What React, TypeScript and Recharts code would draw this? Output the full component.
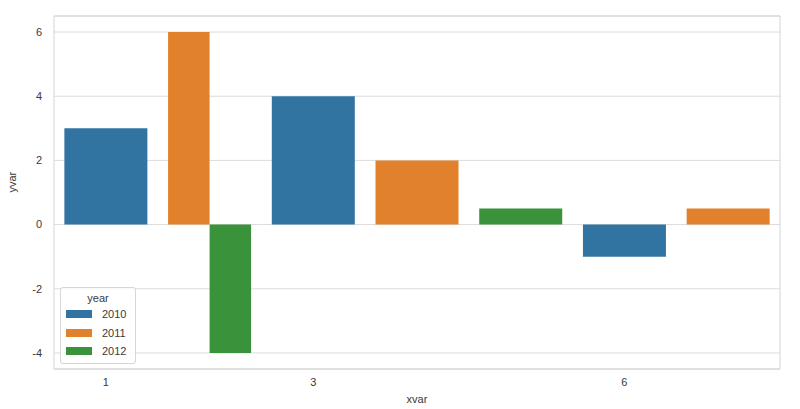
import React from 'react';
import {
  BarChart,
  Bar,
  XAxis,
  YAxis,
  CartesianGrid,
  ReferenceArea,
  Rectangle,
} from 'recharts';

const categories = ['1', '2', '3', '4', '5', '6', '7'];
const shownTicks = ['1', '3', '6'];
const years = ['2010', '2011', '2012'];
const values2010 = [3, null, 4, null, null, -1, null];
const values2011 = [null, 6, null, 2, null, null, 0.5];
const values2012 = [null, -4, null, null, 0.5, null, null];
const yTicks = [-4, -2, 0, 2, 4, 6];

const colors = ['#3274a1', '#e1812c', '#3a923a'];
const textColor = '#3a3a3a';
const fontFamily = '"Liberation Sans", Arial, sans-serif';

const data = categories.map((c, i) => ({
  xvar: c,
  '2010': values2010[i],
  '2011': values2011[i],
  '2012': values2012[i],
}));

// bars share one stack slot; when several years sit in one slot, split it side by side
const renderBar = (props: any, key: string) => {
  const { x, y, width, height, payload, fill } = props;
  if (payload == null || payload[key] == null) return <g />;
  const present = years.filter((k) => payload[k] != null);
  const i = present.indexOf(key);
  const w = width / present.length;
  return <Rectangle x={x + i * w} y={y} width={w} height={height} fill={fill} />;
};

// legend drawn outside the chart so it doesn't eat plot height
const YearLegend = () => (
  <div
    style={{
      position: 'absolute',
      left: 60,
      top: 287,
      border: '1px solid #d6d6d6',
      borderRadius: 3,
      background: 'rgba(255,255,255,0.8)',
      padding: '3px 5px 2px 5px',
      width: 64,
      fontSize: 11,
      color: textColor,
      fontFamily,
    }}
  >
    <div style={{ textAlign: 'center', height: 14, lineHeight: '14px' }}>year</div>
    {years.map((y, i) => (
      <div key={y} style={{ display: 'flex', alignItems: 'center', height: 18.5 }}>
        <span style={{ width: 26, height: 8, background: colors[i], marginRight: 10 }} />
        {y}
      </div>
    ))}
  </div>
);

export default function App() {
  return (
    <div style={{ position: 'relative', marginLeft: -8, marginTop: -8, background: '#fff', width: 800, height: 409 }}>
      <BarChart
        width={800}
        height={409}
        data={data}
        stackOffset="sign"
        barCategoryGap="10%"
        margin={{ top: 16, right: 20, left: 0, bottom: 10 }}
        style={{ fontFamily }}
      >
        <CartesianGrid vertical={false} stroke="#dcdcdc" strokeWidth={1} />
        <ReferenceArea y1={-4.5} y2={6.5} fill="none" stroke="#d4d4d4" strokeWidth={1} />
        <XAxis
          dataKey="xvar"
          axisLine={false}
          tickLine={false}
          tickSize={0}
          tickMargin={9}
          height={30}
          interval={0}
          tickFormatter={(v: string) => (shownTicks.includes(v) ? v : '')}
          tick={{ fill: textColor, fontSize: 11 }}
          label={{ value: 'xvar', position: 'insideBottom', offset: -4, fill: textColor, fontSize: 11 }}
        />
        <YAxis
          type="number"
          domain={[-4.5, 6.5]}
          ticks={yTicks}
          width={54}
          axisLine={false}
          tickLine={false}
          tickSize={0}
          tickMargin={12}
          tick={{ fill: textColor, fontSize: 11 }}
          label={{ value: 'yvar', angle: -90, position: 'insideLeft', offset: 12, fill: textColor, fontSize: 11 }}
        />
        {years.map((y, i) => (
          <Bar
            key={y}
            dataKey={y}
            stackId="s"
            fill={colors[i]}
            isAnimationActive={false}
            shape={(p: any) => renderBar(p, y)}
          />
        ))}
      </BarChart>
      <YearLegend />
    </div>
  );
}
